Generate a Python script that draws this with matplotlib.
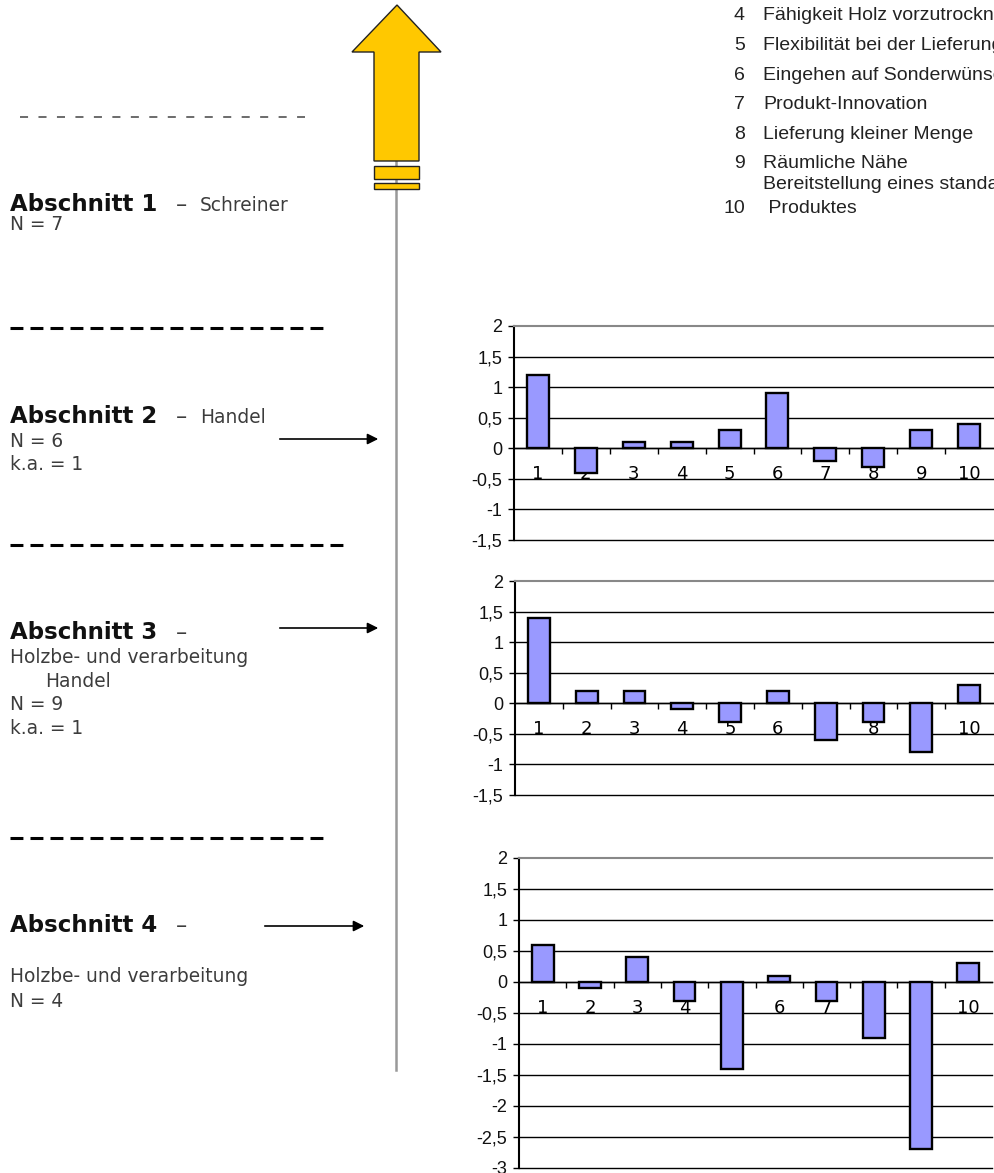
import matplotlib
matplotlib.use('Agg')
import matplotlib.pyplot as plt
from matplotlib.patches import Polygon, Rectangle
from matplotlib.ticker import FixedLocator, FuncFormatter

plt.rcParams['lines.scale_dashes'] = False

# Werte der drei Balkendiagramme (Kriterien 1-10)
kriterien = ['1', '2', '3', '4', '5', '6', '7', '8', '9', '10']
werte_abschnitt2 = [1.2, -0.4, 0.1, 0.1, 0.3, 0.9, -0.2, -0.3, 0.3, 0.4]
werte_abschnitt3 = [1.4, 0.2, 0.2, -0.1, -0.3, 0.2, -0.6, -0.3, -0.8, 0.3]
werte_abschnitt4 = [0.6, -0.1, 0.4, -0.3, -1.4, 0.1, -0.3, -0.9, -2.7, 0.3]

# Legende oben rechts
legende_nr = ['4', '5', '6', '7', '8', '9', '', '10']
legende_text = ['Fähigkeit Holz vorzutrocknen', 'Flexibilität bei der Lieferung',
                'Eingehen auf Sonderwünsche', 'Produkt-Innovation',
                'Lieferung kleiner Menge', 'Räumliche Nähe',
                'Bereitstellung eines standardisierten', ' Produktes']
legende_y = [20.5, 50.5, 80, 109, 139, 168, 189, 213]

W, H = 994, 1173
fig = plt.figure(figsize=(W / 100, H / 100), dpi=100)

# Hintergrund-Achse in Pixelkoordinaten
bg = fig.add_axes([0, 0, 1, 1])
bg.set_xlim(0, W)
bg.set_ylim(H, 0)
bg.axis('off')

# gelber Pfeil nach oben
pfeil = [(397, 5), (441, 52), (419, 52), (419, 161), (374, 161), (374, 52), (352, 52)]
bg.plot([396, 396], [161, 1070], color='#999999', lw=1.8, zorder=1)
bg.add_patch(Polygon(pfeil, closed=True, facecolor='#FFC800', edgecolor='#222222', lw=1, zorder=2))
bg.add_patch(Rectangle((374, 166), 45, 13, facecolor='#FFC800', edgecolor='#222222', lw=1, zorder=2))
bg.add_patch(Rectangle((374, 183), 45, 6, facecolor='#FFC800', edgecolor='#222222', lw=1, zorder=2))

# gestrichelte Trennlinien
bg.plot([20, 305], [117, 117], color='#444444', lw=1.1, dashes=(5.8, 7.5))
for y, x2 in [(328, 325), (545, 345), (838, 325)]:
    bg.plot([10, x2], [y, y], color='black', lw=2.2, dashes=(9.3, 5.1))

# horizontale Pfeile zu den Diagrammen
for y, x1, x2 in [(439, 277, 381), (628, 277, 381), (926, 262, 367)]:
    bg.annotate('', xy=(x2, y), xytext=(x1, y),
                arrowprops=dict(arrowstyle='-|>', color='black', lw=1.2, mutation_scale=16))

# Beschriftung links
fett = dict(fontsize=16.5, fontweight='bold', color='#111111', va='baseline')
normal = dict(fontsize=13.4, color='#3c3c3c', va='baseline')
strich = dict(fontsize=16, color='#3c3c3c', va='baseline')

bg.text(10, 211, 'Abschnitt 1', **fett)
bg.text(176, 211, '–', **strich)
bg.text(200, 211, 'Schreiner', **normal)
bg.text(10, 230, 'N = 7', **normal)

bg.text(10, 423, 'Abschnitt 2', **fett)
bg.text(176, 423, '–', **strich)
bg.text(200, 423, 'Handel', **normal)
bg.text(10, 447, 'N = 6', **normal)
bg.text(10, 470, 'k.a. = 1', **normal)

bg.text(10, 639, 'Abschnitt 3', **fett)
bg.text(176, 639, '–', **strich)
bg.text(10, 663, 'Holzbe- und verarbeitung', **normal)
bg.text(45, 687, 'Handel', **normal)
bg.text(10, 710, 'N = 9', **normal)
bg.text(10, 734, 'k.a. = 1', **normal)

bg.text(10, 932, 'Abschnitt 4', **fett)
bg.text(176, 932, '–', **strich)
bg.text(10, 982, 'Holzbe- und verarbeitung', **normal)
bg.text(10, 1007, 'N = 4', **normal)

# Legende
for nr, txt, y in zip(legende_nr, legende_text, legende_y):
    bg.text(745, y, nr, ha='right', va='baseline', fontsize=14,
            family='Liberation Sans', color='#222222')
    bg.text(763, y, txt, ha='left', va='baseline', fontsize=14,
            family='Liberation Sans', color='#222222')


def komma(v, pos=None):
    return ('%g' % v).replace('.', ',')


def balken(rect_px, werte, ymin, ymax):
    left, top, right, bottom = rect_px
    ax = fig.add_axes([left / W, 1 - bottom / H, (right - left) / W, (bottom - top) / H])
    ax.set_axisbelow(True)
    x = list(range(len(werte)))
    ax.bar(x, werte, width=0.46, color='#9999FF', edgecolor='black', lw=1.7, zorder=3)
    ax.set_xlim(-0.5, len(werte) - 0.5)
    ax.set_ylim(ymin, ymax)

    yt = [ymin + 0.5 * i for i in range(int(round((ymax - ymin) / 0.5)) + 1)]
    ax.yaxis.set_major_locator(FixedLocator(yt))
    ax.yaxis.set_major_formatter(FuncFormatter(komma))
    ax.grid(axis='y', color='black', lw=1.0)
    gls = ax.yaxis.get_gridlines()
    for gl in gls:
        gl.set_clip_on(False)
    gls[-1].set_visible(False)

    ax.xaxis.set_major_locator(FixedLocator([i + 0.5 for i in x[:-1]]))
    ax.xaxis.set_major_formatter(FuncFormatter(lambda v, p: ''))
    ax.xaxis.set_minor_locator(FixedLocator(x))
    ax.set_xticklabels(kriterien, minor=True)
    ax.tick_params(axis='x', which='major', direction='out', length=4, width=1)
    ax.tick_params(axis='x', which='minor', length=0, pad=12, labelsize=13)
    ax.tick_params(axis='y', direction='out', length=4.3, width=1, pad=4, labelsize=13)
    for lab in ax.get_xticklabels(minor=True) + ax.get_yticklabels():
        lab.set_family('Liberation Sans')
        lab.set_color('#111111')

    ax.spines['bottom'].set_position(('data', 0))
    ax.spines['bottom'].set_linewidth(1.0)
    ax.spines['right'].set_visible(False)
    ax.spines['top'].set_color('#888888')
    ax.spines['top'].set_linewidth(1.5)
    ax.spines['left'].set_linewidth(1.5)
    return ax


balken((514, 326, 993, 540), werte_abschnitt2, -1.5, 2)
balken((515, 581, 993, 795), werte_abschnitt3, -1.5, 2)
balken((519, 858, 992, 1168), werte_abschnitt4, -3, 2)

fig.savefig('out.png', dpi=100)
